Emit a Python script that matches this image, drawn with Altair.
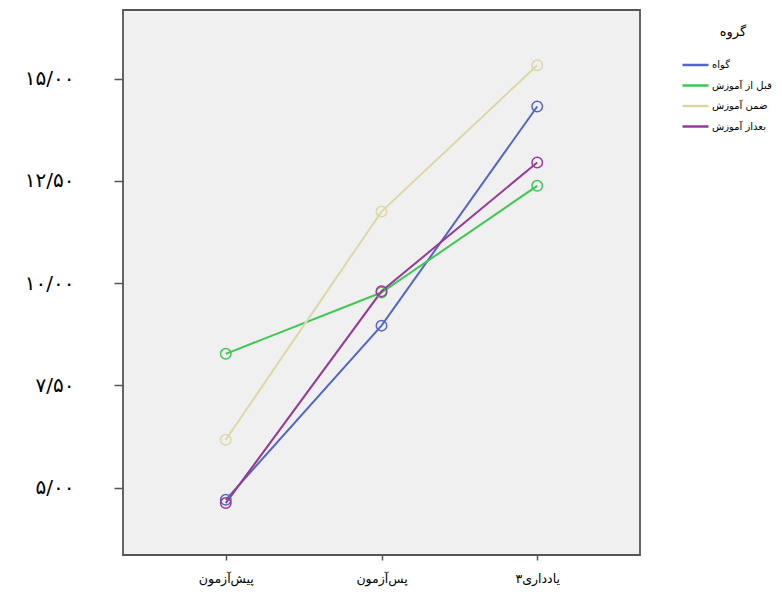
import altair as alt
import pandas as pd

# categories
times = ["پیش‌آزمون", "پس‌آزمون", "۳یادداری"]
groups = ["گواه", "قبل از آموزش", "ضمن آموزش", "بعداز آموزش"]
colors = ["#5366c3", "#3ec853", "#dcd8a6", "#963a97"]

# series values (mean scores at each time)
control = [4.70, 8.96, 14.32]
before = [8.27, 9.77, 12.38]
during = [6.17, 11.75, 15.33]
after = [4.62, 9.80, 12.95]

# y tick labels
ytick_vals = [5, 7.5, 10, 12.5, 15]
ytick_labels = ["۵/۰۰", "۷/۵۰", "۱۰/۰۰", "۱۲/۵۰", "۱۵/۰۰"]

rows = []
for g, series in zip(groups, [control, before, during, after]):
    for t, v in zip(times, series):
        rows.append({"time": t, "group": g, "value": v})
df = pd.DataFrame(rows)

label_expr = "''"
for v, lab in zip(ytick_vals, ytick_labels):
    label_expr = f"datum.value == {v} ? '{lab}' : ({label_expr})"

FONT = "DejaVu Sans"

x_enc = alt.X(
    "time:N",
    sort=times,
    scale=alt.Scale(type="point", padding=0.66),
    axis=alt.Axis(
        title=None, domain=False, grid=False, labelAngle=0,
        tickSize=5, tickColor="#555555", tickWidth=1.5,
        labelFontSize=12.5, labelFont=FONT, labelColor="#000000",
        labelPadding=12,
    ),
)
y_enc = alt.Y(
    "value:Q",
    scale=alt.Scale(domain=[3.35, 16.68], nice=False, zero=False),
    axis=alt.Axis(
        title=None, domain=False, grid=False, values=ytick_vals,
        labelExpr=label_expr, tickSize=9, tickColor="#555555", tickWidth=1.5,
        labelFontSize=20, labelFont=FONT, labelColor="#000000",
        labelPadding=40,
    ),
)
color_enc = alt.Color(
    "group:N",
    sort=groups,
    scale=alt.Scale(domain=groups, range=colors),
    legend=alt.Legend(
        title="گروه", orient="none", legendX=571, legendY=16,
        padding=0, titleFontSize=13, titleFont=FONT, titleFontWeight="normal",
        titleColor="#000000", titleAnchor="middle", titlePadding=18,
        labelFontSize=10, labelFont=FONT, labelColor="#000000", labelOffset=2,
        symbolType="M-3,0H1", symbolSize=169, symbolStrokeWidth=2.5,
        rowPadding=7.5,
    ),
)

lines = alt.Chart(df).mark_line(strokeWidth=2).encode(x=x_enc, y=y_enc, color=color_enc)
points = alt.Chart(df).mark_point(filled=False, size=110, strokeWidth=1.5, opacity=1).encode(
    x=x_enc, y=y_enc, color=color_enc
)

chart = (
    alt.layer(lines, points)
    .properties(
        width=517,
        height=545,
        padding={"left": 115, "top": 2, "right": 134, "bottom": 33},
        autosize="none",
        background="#ffffff",
    )
    .configure_view(fill="#f0f0f0", stroke="#555555", strokeWidth=1.8)
)

chart.save("out.html", embed_options={"renderer": "svg", "actions": False})
